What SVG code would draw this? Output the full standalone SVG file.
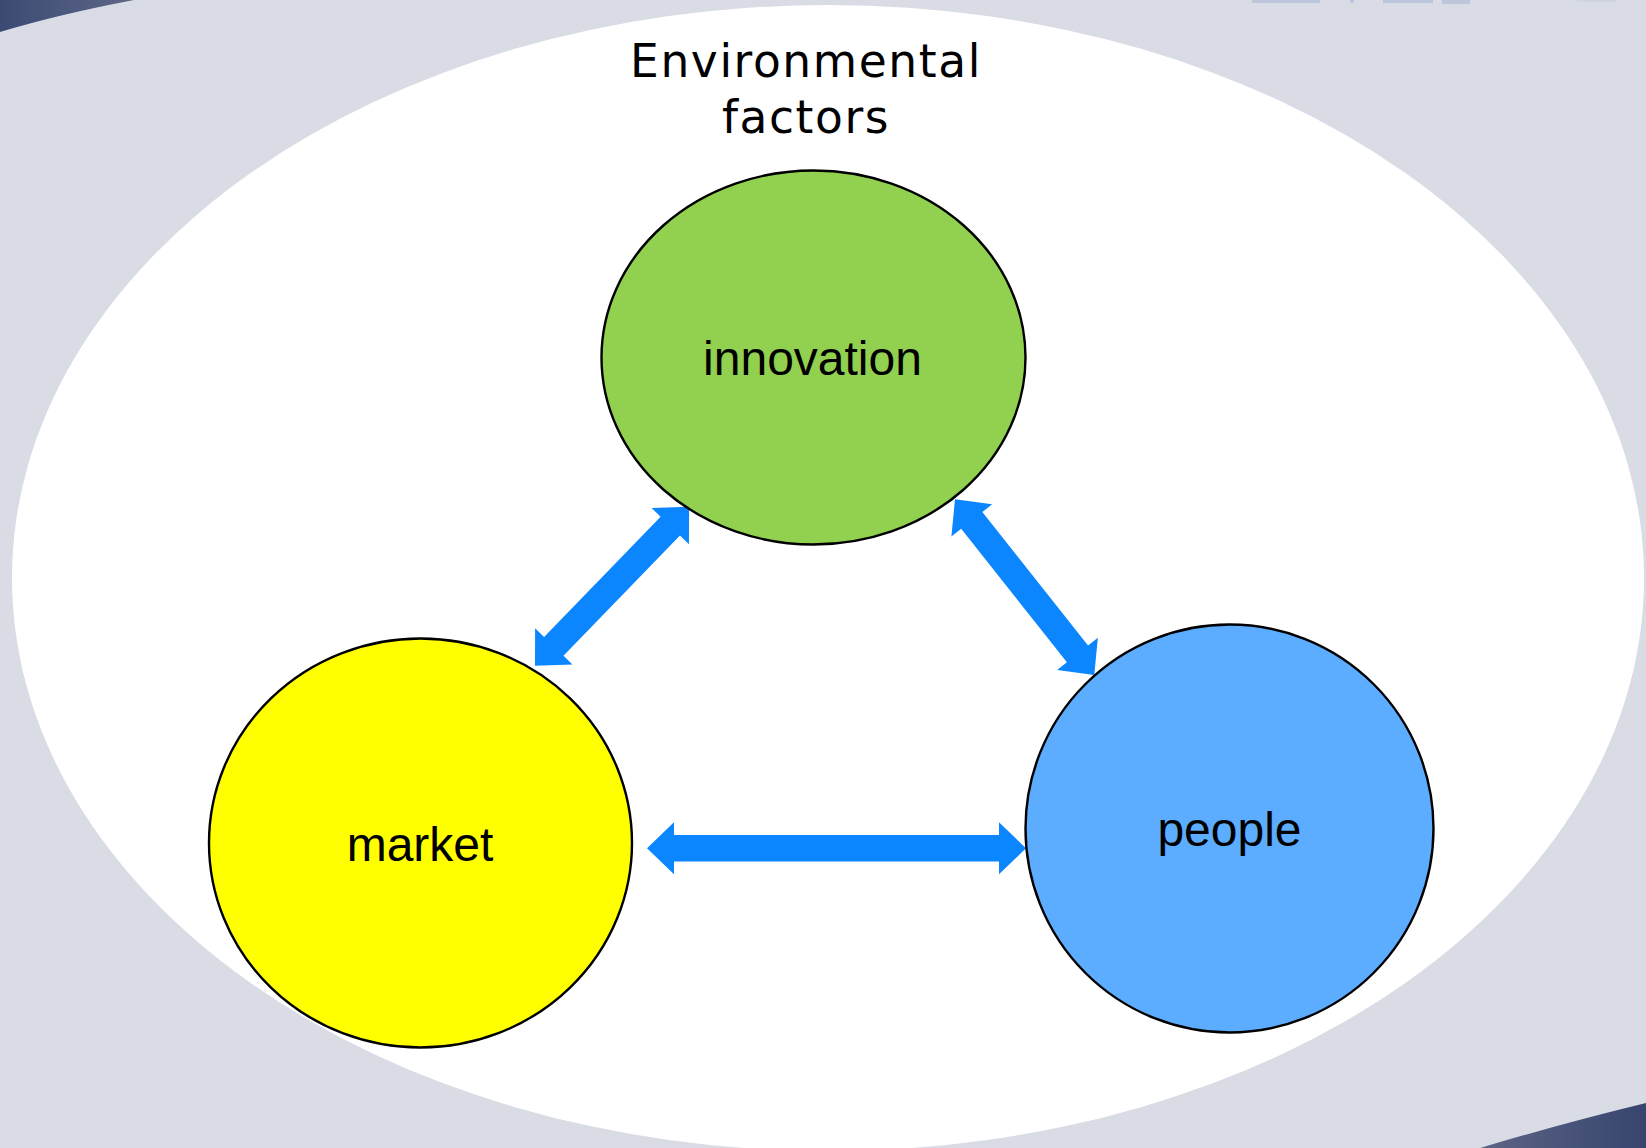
<svg xmlns="http://www.w3.org/2000/svg" width="1646" height="1148" viewBox="0 0 1646 1148">
  <style>
    .node { stroke: #000; stroke-width: 2.4; }
    .label { font-family: "Liberation Sans", Arial, sans-serif; font-size: 48px; fill: #000; text-anchor: middle; }
    .title { font-family: "DejaVu Sans", "Liberation Sans", sans-serif; font-size: 45.5px; fill: #000; text-anchor: middle; letter-spacing: 1.6px; }
    .arrow { fill: #0B86FF; }
  </style>
  <defs>
    <linearGradient id="gTL" x1="0" y1="0" x2="1" y2="0">
      <stop offset="0" stop-color="#3c4a73"/>
      <stop offset="1" stop-color="#5d6787"/>
    </linearGradient>
    <linearGradient id="gBR" x1="0" y1="0" x2="1" y2="0">
      <stop offset="0" stop-color="#5d6585"/>
      <stop offset="1" stop-color="#37446e"/>
    </linearGradient>
  </defs>

  <g id="background">
    <rect x="0" y="0" width="1646" height="1148" fill="#D9DCE5"/>
    <path d="M0,0 L134,0 Q60,14 0,32 Z" fill="url(#gTL)"/>
    <path d="M1480,1148 Q1560,1124 1646,1103 L1646,1148 Z" fill="url(#gBR)"/>
    <g fill="#9fb0d2" opacity="0.5">
      <rect x="1252" y="0" width="68" height="3"/>
      <rect x="1350" y="0" width="4" height="3"/>
      <rect x="1383" y="0" width="50" height="3"/>
      <rect x="1442" y="0" width="28" height="4"/>
    </g>
    <rect x="1577" y="0" width="40" height="2" fill="#cfd4df"/>
  </g>

  <g id="environment">
    <ellipse cx="828" cy="578" rx="816" ry="573" fill="#FFFFFF"/>
    <text class="title" x="806" y="77">Environmental</text>
    <text class="title" x="806" y="133">factors</text>
  </g>

  <g id="connectors">
    <polygon class="arrow" transform="translate(535,665.7) rotate(-45.9)" points="0,0 27,-26 27,-13.5 194.4,-13.5 194.4,-26 221.4,0 194.4,26 194.4,13.5 27,13.5 27,26"/>
    <polygon class="arrow" transform="translate(955,499.3) rotate(51.6)" points="0,0 27,-26 27,-13.5 197.2,-13.5 197.2,-26 224.2,0 197.2,26 197.2,13.5 27,13.5 27,26"/>
    <polygon class="arrow" transform="translate(647,848.3)" points="0,0 27,-26 27,-13.3 352,-13.3 352,-26 379,0 352,26 352,13.3 27,13.3 27,26"/>
  </g>

  <g id="node-innovation">
    <ellipse class="node" cx="813.5" cy="357.5" rx="212" ry="187" fill="#92D050"/>
    <text class="label" x="812.5" y="374.5">innovation</text>
  </g>

  <g id="node-market">
    <ellipse class="node" cx="420.5" cy="843" rx="211.5" ry="204.5" fill="#FFFF00"/>
    <text class="label" x="420" y="860.5">market</text>
  </g>

  <g id="node-people">
    <ellipse class="node" cx="1229.5" cy="828.5" rx="204" ry="204" fill="#5CACFF"/>
    <text class="label" x="1229.5" y="845.5">people</text>
  </g>
</svg>
